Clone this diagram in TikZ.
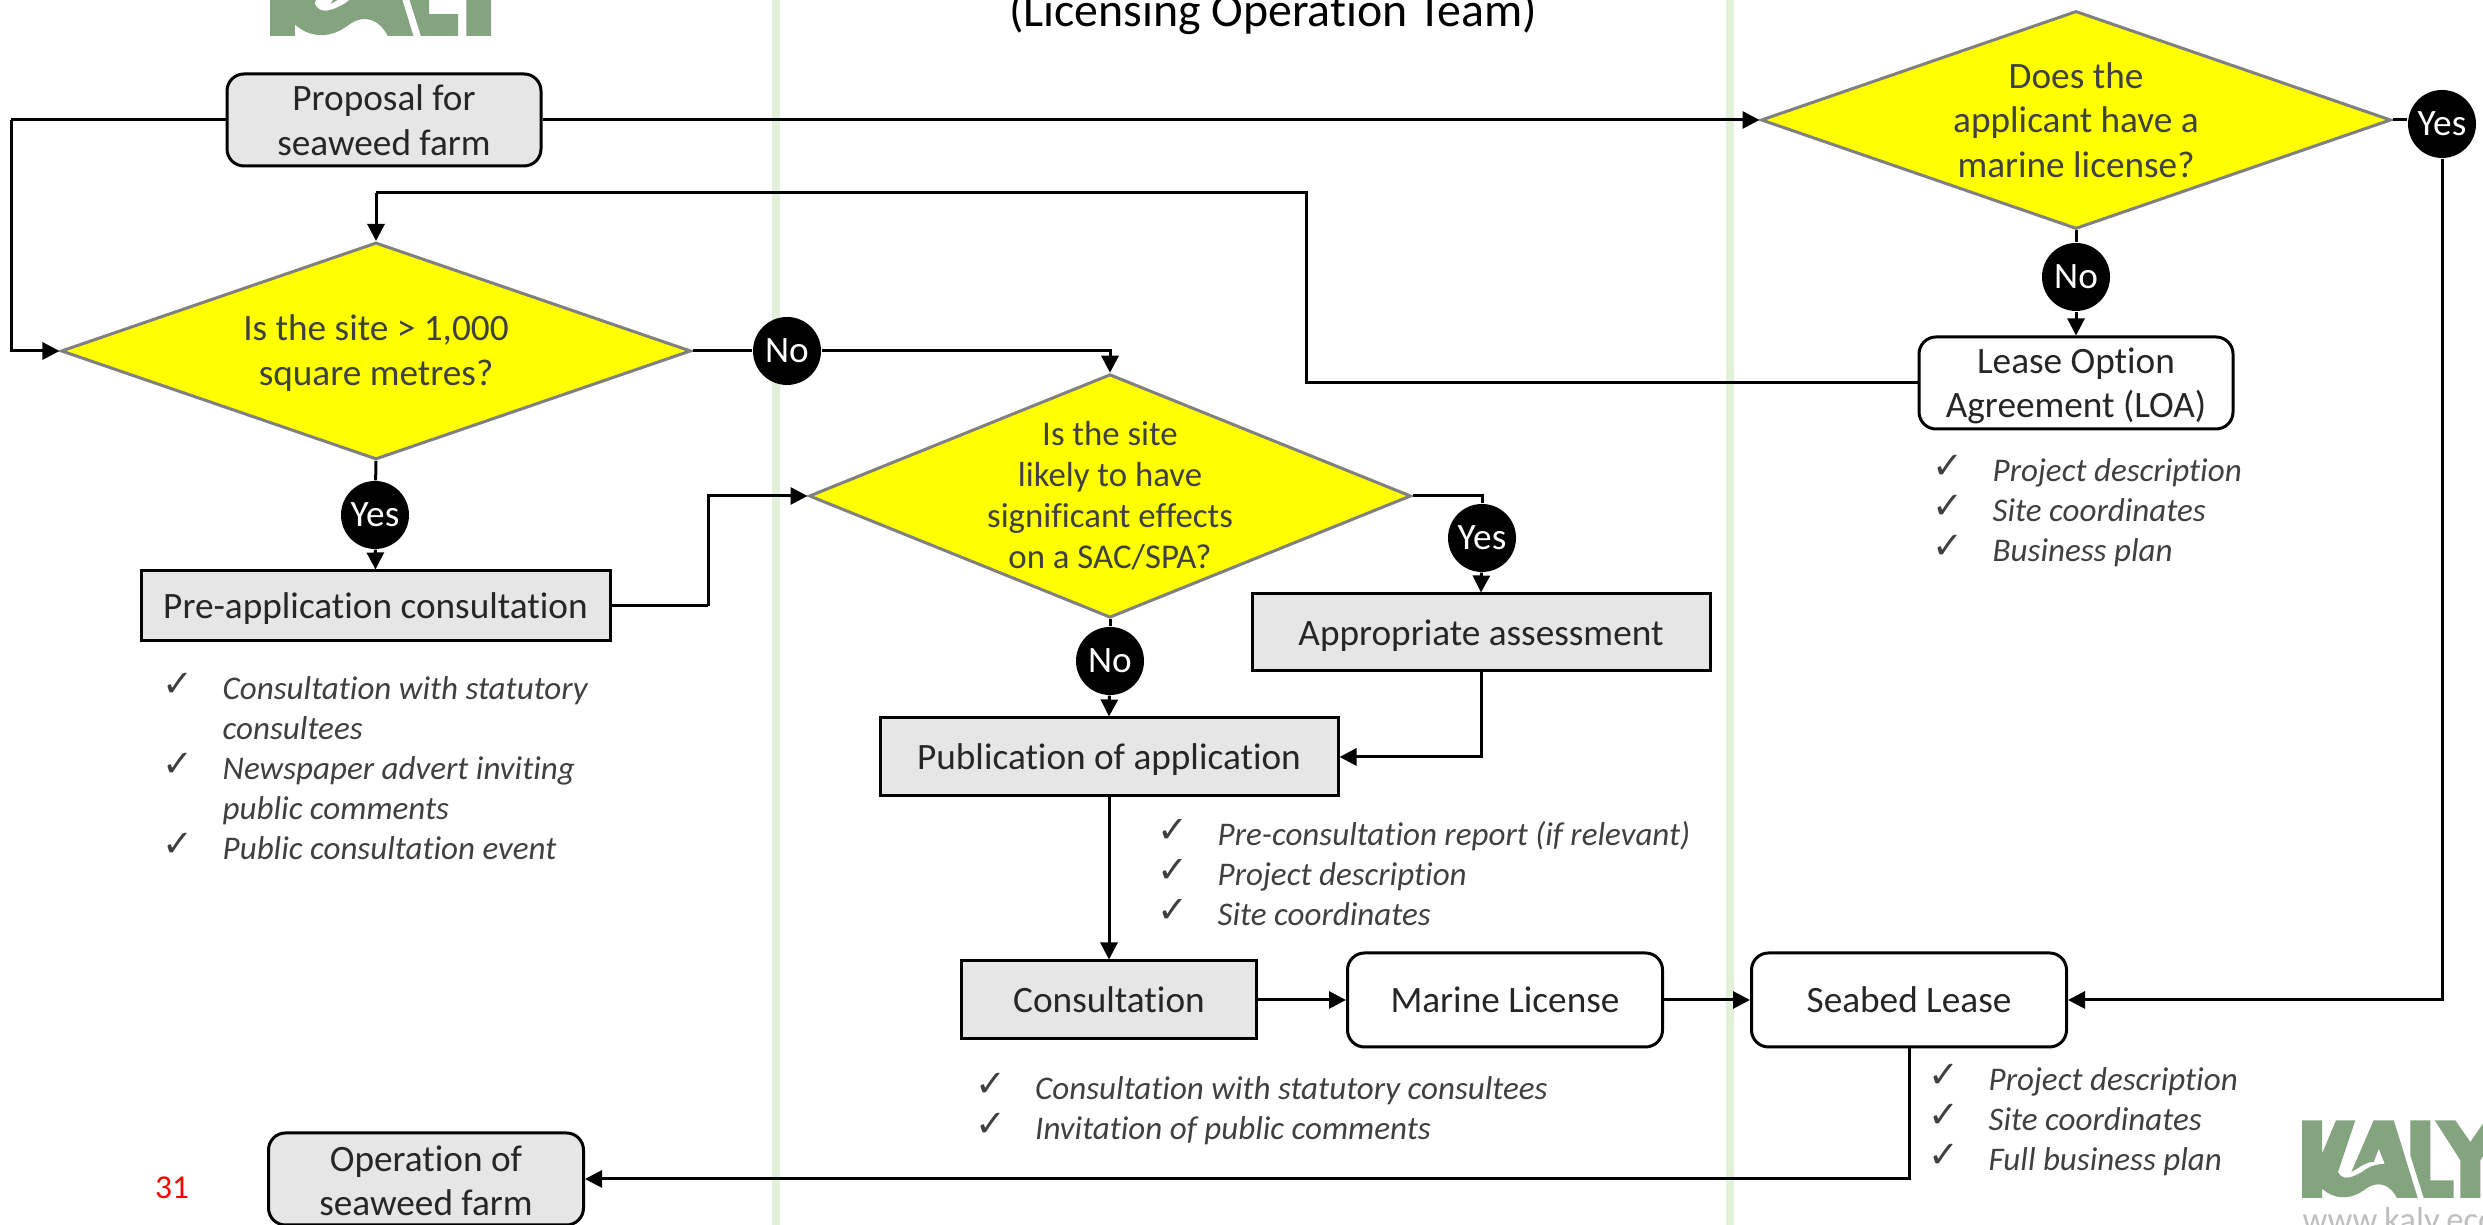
\documentclass[tikz,border=0pt]{standalone}
\usepackage{fontspec}
\setmainfont[Ligatures=NoCommon]{Carlito}
\newfontfamily\checkfont{DejaVu Sans}
\usetikzlibrary{shapes.geometric,arrows.meta}
\definecolor{bandgreen}{HTML}{E2EFD9}
\definecolor{logogreen}{HTML}{83A47E}
\definecolor{boxgrey}{HTML}{E6E6E6}
\definecolor{bodytext}{HTML}{404040}
\definecolor{questionyellow}{RGB}{255,255,0}
\newcommand{\ck}{\raisebox{0.03cm}{\checkfont\fontsize{10.5}{10}\selectfont ✓}}
\tikzset{
    box/.style={draw=black, line width=0.03cm, fill=boxgrey, text=black!85, inner sep=0, align=center,
        font=\fontsize{10.6}{0.445cm}\selectfont},
    oneline/.style={text height=0.34cm, text depth=0.08cm},
    roundbox/.style={box, rounded corners=0.17cm},
    question/.style={diamond, draw=black!50, line width=0.03cm, fill=questionyellow, text=bodytext, inner sep=0, align=center},
    badge/.style={circle, fill=black, text=white, inner sep=0, minimum size=0.68cm,
        font=\fontsize{10.6}{0.44cm}\selectfont},
    ticks/.style={text=bodytext, inner sep=0, anchor=base west, font=\fontsize{9.4}{0.4cm}\selectfont\itshape},
    link/.style={draw=black, line width=0.03cm},
    arrow/.style={link, -{Triangle[length=0.17cm,width=0.17cm]}},
    kalylogo/.pic={
        \fill[logogreen] (0,0) -- (0,.777) -- (.2,.777) -- (.2,.443) -- (.34,.777) -- (.533,.777) -- (.36,.26)
            .. controls (.4,.177) and (.483,.193) .. (.6,.26)
            .. controls (.683,.327) and (.75,.337) .. (.827,.343)
            -- (.767,.493) -- (.717,.36)
            .. controls (.633,.36) and (.583,.31) .. (.493,.26)
            -- (.717,.777) -- (.917,.777) -- (1.157,0) -- (.95,0)
            .. controls (.883,.127) and (.767,.193) .. (.617,.077)
            .. controls (.517,.003) and (.35,-.04) .. (.2,.093)
            -- (.2,0) -- cycle;
        \fill[logogreen] (1.083,.777) -- (1.283,.777) -- (1.283,.177) -- (1.517,.177) -- (1.517,0) -- (1.217,0) -- (1.083,.427) -- cycle;
        \fill[logogreen] (1.327,.777) -- (1.533,.777) -- (1.683,.56) -- (1.833,.777) -- (2.04,.777) -- (1.783,.377) -- (1.783,0) -- (1.583,0) -- (1.583,.377) -- cycle;
    }
}
\begin{document}
\begin{tikzpicture}
    \useasboundingbox (0,0) rectangle (24.83,12.25);
    \clip (0,0) rectangle (24.83,12.25);
    \fill[white] (0,0) rectangle (24.83,12.25);

    %bands
    \fill[bandgreen] (7.72,0) rectangle (7.80,12.25);
    \fill[bandgreen] (17.26,0) rectangle (17.34,12.25);

    %logos
    \pic[scale=1.24] at (2.70,11.89) {kalylogo};
    \pic at (23.02,0.27) {kalylogo};
    \node (web) [anchor=base west, inner sep=0, text=black!25, font=\fontsize{9.9}{11}\selectfont] at (23.02,-0.07) {www.kaly.eco};

    %heading and page number
    \node (team) [anchor=base, inner sep=0, font=\fontsize{13.6}{16}\selectfont] at (12.73,11.985) {(Licensing Operation Team)};
    \node (page) [inner sep=0, text=red, font=\fontsize{9.5}{11}\selectfont] at (1.72,0.37) {31};

    %left column
    \node (proposal) [roundbox, minimum width=3.14cm, minimum height=0.92cm] at (3.84,11.05) {Proposal for\\seaweed farm};
    \node (siteQ) [question, shape aspect=2.903, minimum width=6.30cm, minimum height=2.17cm, font=\fontsize{10.6}{0.445cm}\selectfont, text height=0.75cm] at (3.76,8.74) {Is the site > 1,000\\square metres?};
    \node (no1) [badge] at (7.87,8.74) {No};
    \node (yes1) [badge] at (3.75,7.10) {Yes};
    \node (preapp) [box, oneline, minimum width=4.69cm, minimum height=0.70cm] at (3.755,6.19) {Pre-application consultation};
    \node (preappTicks) [ticks] at (1.62,5.25) {\begin{tabular}[t]{@{}p{0.60cm}@{}l@{}}
        \ck & Consultation with statutory\\
            & consultees\\
        \ck & Newspaper advert inviting\\
            & public comments\\
        \ck & Public consultation event
    \end{tabular}};
    \node (operation) [roundbox, minimum width=3.15cm, minimum height=0.92cm, text height=0.74cm] at (4.26,0.46) {Operation of\\seaweed farm};

    %middle column
    \node (sigQ) [question, inner sep=-0.06cm, shape aspect=2.472, minimum width=6.02cm, minimum height=2.435cm, font=\fontsize{9.9}{0.41cm}\selectfont] at (11.10,7.29) {Is the site\\likely to have\\significant effects\\on a SAC/SPA?};
    \node (yes2) [badge] at (14.82,6.87) {Yes};
    \node (no2) [badge] at (11.10,5.64) {No};
    \node (appropriate) [box, oneline, minimum width=4.58cm, minimum height=0.77cm] at (14.81,5.925) {Appropriate assessment};
    \node (publication) [box, oneline, minimum width=4.58cm, minimum height=0.78cm] at (11.09,4.68) {Publication of application};
    \node (publicationTicks) [ticks] at (11.57,3.79) {\begin{tabular}[t]{@{}p{0.60cm}@{}l@{}}
        \ck & Pre-consultation report (if relevant)\\
        \ck & Project description\\
        \ck & Site coordinates
    \end{tabular}};
    \node (consultation) [box, oneline, minimum width=2.95cm, minimum height=0.78cm] at (11.09,2.25) {Consultation};
    \node (consultationTicks) [ticks] at (9.745,1.25) {\begin{tabular}[t]{@{}p{0.60cm}@{}l@{}}
        \ck & Consultation with statutory consultees\\
        \ck & Invitation of public comments
    \end{tabular}};
    \node (marine) [roundbox, oneline, fill=white, minimum width=3.15cm, minimum height=0.94cm] at (15.05,2.25) {Marine License};

    %right column
    \node (licenceQ) [question, shape aspect=2.89, minimum width=6.30cm, minimum height=2.18cm, font=\fontsize{10.6}{0.445cm}\selectfont] at (20.76,11.05) {Does the\\applicant have a\\marine license?};
    \node (yes3) [badge] at (24.42,11.01) {Yes};
    \node (no3) [badge] at (20.76,9.48) {No};
    \node (loa) [roundbox, fill=white, minimum width=3.14cm, minimum height=0.92cm, text height=0.76cm] at (20.76,8.42) {Lease Option\\Agreement (LOA)};
    \node (loaTicks) [ticks] at (19.32,7.43) {\begin{tabular}[t]{@{}p{0.60cm}@{}l@{}}
        \ck & Project description\\
        \ck & Site coordinates\\
        \ck & Business plan
    \end{tabular}};
    \node (seabed) [roundbox, oneline, fill=white, minimum width=3.15cm, minimum height=0.94cm] at (19.09,2.25) {Seabed Lease};
    \node (seabedTicks) [ticks] at (19.28,1.34) {\begin{tabular}[t]{@{}p{0.60cm}@{}l@{}}
        \ck & Project description\\
        \ck & Site coordinates\\
        \ck & Full business plan
    \end{tabular}};

    %bends
    \coordinate (bendLeft) at (0.11,11.05);
    \coordinate (bendPre) at (7.08,6.19);
    \coordinate (bendLoa) at (13.06,8.42);
    \coordinate (bendTop) at (13.06,10.32);
    \coordinate (bendSite) at (3.76,10.32);

    %connectors
    \path [link] (proposal.west) -- (bendLeft);
    \path [arrow] (bendLeft) |- (siteQ.west);
    \path [arrow] (proposal.east) -- (licenceQ.west);
    \path [link] (siteQ.east) -- (no1);
    \path [arrow] (no1) -| (sigQ.north);
    \path [link] (siteQ.south) -- (yes1);
    \path [arrow] (yes1) -- (preapp.north);
    \path [link] (preapp.east) -- (bendPre);
    \path [arrow] (bendPre) |- (sigQ.west);
    \path [link] (sigQ.east) -| (yes2);
    \path [arrow] (yes2) -- (appropriate.north);
    \path [link] (sigQ.south) -- (no2);
    \path [arrow] (no2) -- (publication.north);
    \path [arrow] (appropriate.south) |- (publication.east);
    \path [arrow] (publication.south) -- (consultation.north);
    \path [arrow] (consultation.east) -- (marine.west);
    \path [arrow] (marine.east) -- (seabed.west);
    \path [link] (licenceQ.east) -- (licenceQ.east -| yes3.west);
    \path [arrow] (yes3) |- (seabed.east);
    \path [link] (licenceQ.south) -- (no3);
    \path [arrow] (no3) -- (loa.north);
    \path [link] (loa.west) -- (bendLoa) -- (bendTop) -- (bendSite);
    \path [arrow] (bendSite) -- (siteQ.north);
    \path [arrow] (seabed.south) |- (operation.east);
\end{tikzpicture}
\end{document}
